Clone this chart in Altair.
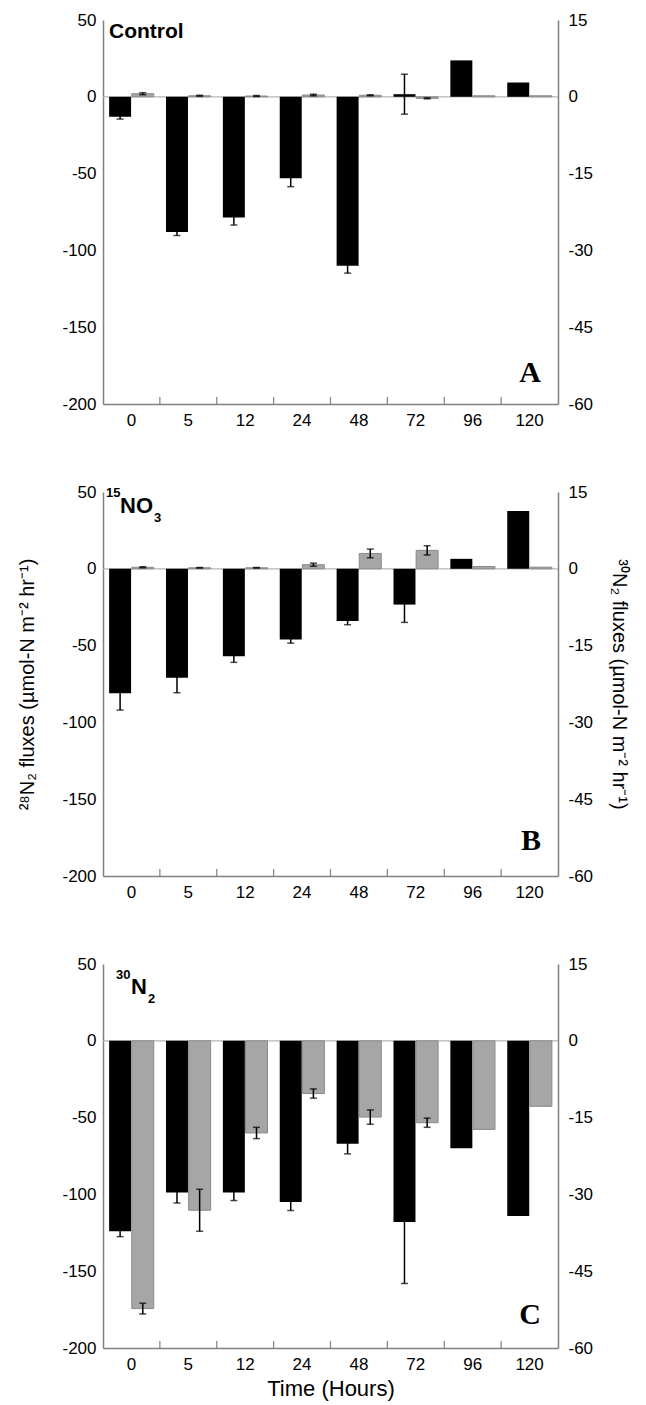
import altair as alt
import pandas as pd

times = ["0", "5", "12", "24", "48", "72", "96", "120"]

# Panel A - Control  (28N2 on left axis, 30N2 on right axis)
a_28n2 = [-13, -88, -78.5, -53, -110, 1.7, 23.7, 9.3]
a_28n2_err = [1.5, 2.3, 5, 5.5, 4.8, 13, 0, 0]
a_30n2 = [0.6, 0.2, 0.15, 0.35, 0.3, -0.3, 0.2, 0.2]
a_30n2_err = [0.2, 0.1, 0.1, 0.15, 0.1, 0.1, 0, 0]

# Panel B - 15NO3
b_28n2 = [-81, -71, -57, -46, -34, -23.3, 6.5, 37.7]
b_28n2_err = [11, 9.7, 3.9, 2.4, 2.4, 11.6, 0, 0]
b_30n2 = [0.3, 0.2, 0.2, 0.8, 3.0, 3.6, 0.45, 0.32]
b_30n2_err = [0.1, 0.05, 0.05, 0.3, 0.85, 0.9, 0, 0]

# Panel C - 30N2
c_28n2 = [-124, -98.7, -98.7, -105, -67, -118, -70, -114]
c_28n2_err = [3.5, 6.9, 5.3, 5.5, 6.6, 40, 0, 0]
c_30n2 = [-52.3, -33.1, -18, -10.3, -14.9, -16, -17.3, -12.8]
c_30n2_err = [1.05, 4.1, 1.1, 0.9, 1.4, 0.9, 0, 0]

left_ticks = [-200, -150, -100, -50, 0, 50]
right_ticks = [-60, -45, -30, -15, 0, 15]
series_domain = ["28N2", "30N2"]

W, H = 455, 384
SANS = "Liberation Sans"
SERIF = "Liberation Serif"
AXC = "#808080"

left_title = "²⁸N₂ fluxes (µmol-N m⁻² hr⁻¹)"
right_title = "³⁰N₂ fluxes (µmol-N m⁻² hr⁻¹)"
x_title = "Time (Hours)"

xscale = alt.Scale(domain=times, paddingInner=0, paddingOuter=0)
xaxis = alt.Axis(labelFont=SANS, labelFontSize=17, labelColor="black", labelPadding=8,
                 labelAngle=0, ticks=False, domainColor=AXC, domainWidth=1.5, grid=False,
                 titleFont=SANS, titleFontSize=22, titleFontWeight="normal",
                 titleColor="black", titlePadding=6)
xoff = alt.XOffset("series:N", scale=alt.Scale(domain=series_domain, paddingInner=0.03,
                                                paddingOuter=0.27))


def xenc(show_title, **kw):
    return alt.X("time:N", scale=xscale, axis=xaxis,
                 title=x_title if show_title else None, **kw)


def yaxis(orient, show_title):
    vals = left_ticks if orient == "left" else right_ticks
    return alt.Axis(orient=orient, values=vals, labelFont=SANS, labelFontSize=17,
                    labelColor="black", labelPadding=7 if orient == "left" else 10,
                    labelExpr="'' + datum.value",
                    ticks=False, grid=False, domainColor=AXC, domainWidth=1.5,
                    labelOverlap=False,
                    titleFont=SANS, titleFontSize=20, titleFontWeight="normal",
                    titleColor="black", titlePadding=24 if orient == "left" else 16)


def yenc(field, orient, show_title):
    dom = [-200, 50] if orient == "left" else [-60, 15]
    ttl = (left_title if orient == "left" else right_title) if show_title else None
    return alt.Y(field, scale=alt.Scale(domain=dom, nice=False, zero=False),
                 axis=yaxis(orient, show_title), title=ttl)


def group(vals, errs, series, orient, show_ytitle, show_xtitle, fill, stroke):
    df = pd.DataFrame({"time": times, "series": series, "value": vals, "err": errs})
    bars = alt.Chart(df).mark_bar(fill=fill, stroke=stroke, strokeWidth=1 if stroke else 0).encode(
        x=xenc(show_xtitle), xOffset=xoff, y=yenc("value:Q", orient, show_ytitle))
    d = df[df.err > 0]
    base = alt.Chart(d).transform_calculate(lo="datum.value - datum.err",
                                            hi="datum.value + datum.err")
    rule = base.mark_rule(color="black", strokeWidth=1.5).encode(
        x=xenc(show_xtitle), xOffset=xoff, y=yenc("lo:Q", orient, show_ytitle), y2="hi:Q")
    cap_lo = base.mark_tick(color="black", size=7, thickness=1.5, orient="horizontal").encode(
        x=xenc(show_xtitle), xOffset=xoff, y=yenc("lo:Q", orient, show_ytitle))
    cap_hi = base.mark_tick(color="black", size=7, thickness=1.5, orient="horizontal").encode(
        x=xenc(show_xtitle), xOffset=xoff, y=yenc("hi:Q", orient, show_ytitle))
    return [bars, rule, cap_lo, cap_hi]


def txt(s, x, y, size, font=SANS, weight="bold"):
    return alt.Chart(pd.DataFrame({"t": [s]})).mark_text(
        font=font, fontSize=size, fontWeight=weight, align="left", baseline="alphabetic",
        color="black").encode(text="t:N", x=alt.value(x), y=alt.value(y))


def panel(v28, e28, v30, e30, label_parts, letter, letter_dy, show_ytitle, show_xtitle):
    zero = alt.Chart(pd.DataFrame({"z": [0]})).mark_rule(color="#b5b5b5", strokeWidth=1.2).encode(
        y=yenc("z:Q", "left", show_ytitle), x=alt.value(0), x2=alt.value(W))
    ticks = alt.Chart(pd.DataFrame({"time": times[1:]})).mark_rule(color=AXC, strokeWidth=1.2).encode(
        x=xenc(show_xtitle, bandPosition=0), y=alt.value(H), y2=alt.value(H - 7))
    texts = [txt(s, x, y, sz) for (s, x, y, sz) in label_parts]
    let = alt.Chart(pd.DataFrame({"t": [letter]})).mark_text(
        font=SERIF, fontSize=30, fontWeight="bold", align="right", baseline="alphabetic",
        color="black").encode(text="t:N", x=alt.value(W - 17), y=alt.value(H - letter_dy))
    g28 = group(v28, e28, "28N2", "left", show_ytitle, show_xtitle, "black", None)
    g30 = group(v30, e30, "30N2", "right", show_ytitle, show_xtitle, "#a6a6a6", "#8a8a8a")
    left = alt.layer(zero, ticks, *g28, *texts, let)
    right = alt.layer(*g30)
    return alt.layer(left, right).resolve_scale(y="independent").properties(width=W, height=H)


pA = panel(a_28n2, a_28n2_err, a_30n2, a_30n2_err,
           [("Control", 6, 18, 21)], "A", 22, False, False)
pB = panel(b_28n2, b_28n2_err, b_30n2, b_30n2_err,
           [("15", 3, 5, 13), ("NO", 17, 21, 22), ("3", 51, 30, 13)], "B", 26, True, False)
pC = panel(c_28n2, c_28n2_err, c_30n2, c_30n2_err,
           [("30", 13, 15, 13), ("N", 28, 30, 22), ("2", 45, 39, 13)], "C", 24, False, True)

chart = alt.vconcat(pA, pB, pC, spacing=55).properties(
    padding={"left": 9, "top": 3, "right": 5, "bottom": 5}
).configure_view(strokeWidth=0)

chart.save("out.html", embed_options={"renderer": "svg", "actions": False})
